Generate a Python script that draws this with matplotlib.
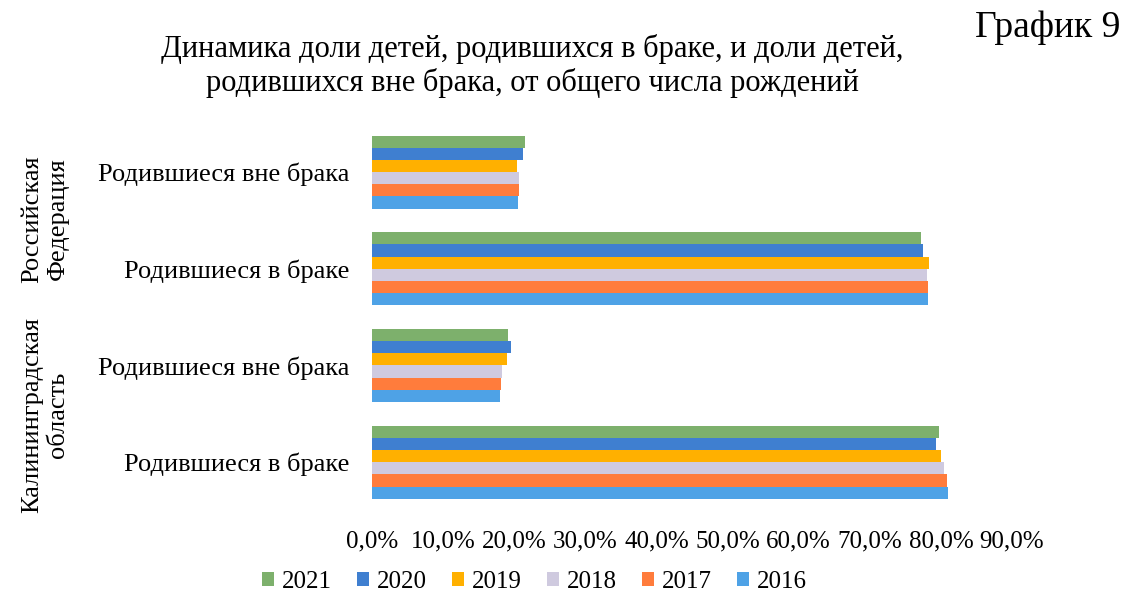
import numpy as np
import matplotlib
matplotlib.use("Agg")
import matplotlib.pyplot as plt
from matplotlib.ticker import FuncFormatter

plt.rcParams['font.family'] = ['Liberation Serif', 'DejaVu Serif']

# categories top to bottom
categories = ["Родившиеся вне брака", "Родившиеся в браке",
              "Родившиеся вне брака", "Родившиеся в браке"]
groups = ["Российская\nФедерация", "Калининградская\nобласть"]
years = ["2021", "2020", "2019", "2018", "2017", "2016"]

# shares, % (RF out, RF in, Kaliningrad out, Kaliningrad in)
v2021 = [21.5, 77.2, 19.2, 79.8]
v2020 = [21.3, 77.5, 19.5, 79.3]
v2019 = [20.4, 78.3, 19.0, 80.0]
v2018 = [20.7, 78.0, 18.3, 80.5]
v2017 = [20.7, 78.2, 18.2, 80.8]
v2016 = [20.6, 78.2, 18.0, 81.0]
series = [v2021, v2020, v2019, v2018, v2017, v2016]
colors = ["#7DB06C", "#3F7FD0", "#FFB000", "#CFCADF", "#FF7C3C", "#4EA2E6"]

fig = plt.figure(figsize=(11.27, 5.95), dpi=100)
ax = fig.add_axes([0.330, 0.142, 0.568, 0.650])

y = np.arange(len(categories))
h = 0.126
for i, (vals, c, yr) in enumerate(zip(series, colors, years)):
    ax.barh(y + (i - 2.5) * h, vals, height=h, color=c, label=yr)

ax.set_xlim(0, 90)
ax.set_ylim(3.5, -0.5)
ax.set_xticks(np.arange(0, 91, 10))
ax.xaxis.set_major_formatter(FuncFormatter(lambda v, p: f"{v:.1f}%".replace(".", ",")))
ax.set_yticks(y)
ax.set_yticklabels(categories, fontsize=19)
ax.tick_params(axis='x', labelsize=18, length=0, pad=14)
ax.tick_params(axis='y', length=0, pad=16)
for s in ax.spines.values():
    s.set_visible(False)

# group labels
fig.text(0.040, 0.632, groups[0], rotation=90, ha='center', va='center',
         fontsize=19, linespacing=1.2)
fig.text(0.040, 0.302, groups[1], rotation=90, ha='center', va='center',
         fontsize=19, linespacing=1.2)

fig.text(0.472, 0.889, "Динамика доли детей, родившихся в браке, и доли детей,\n"
         "родившихся вне брака, от общего числа рождений",
         ha='center', va='center', fontsize=22, linespacing=1.2)
fig.text(0.930, 0.953, "График 9", ha='center', va='center', fontsize=27)

ax.legend(loc='center', bbox_to_anchor=(0.474, 0.022), bbox_transform=fig.transFigure,
          ncol=6, frameon=False, fontsize=18, handlelength=0.5, handleheight=0.5,
          handletextpad=0.3, columnspacing=1.0)

fig.savefig("out.png", dpi=100)
